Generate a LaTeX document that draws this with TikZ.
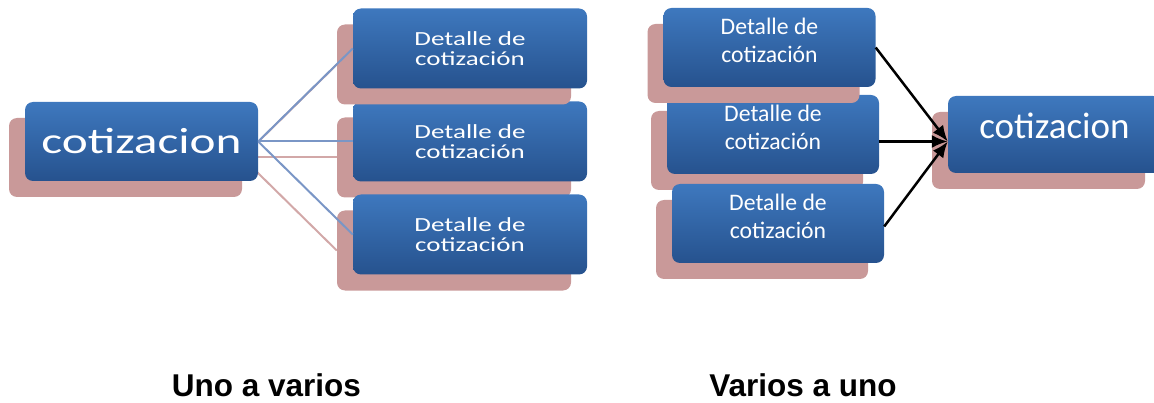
\documentclass[tikz,border=0pt]{standalone}
\usepackage{fontspec}
\setmainfont{Carlito}
\newfontfamily\titlefont{Liberation Sans}
\usepackage{tikz}
\usetikzlibrary{arrows,arrows.meta,shapes,positioning,shadows,backgrounds}
\usepackage{xcolor}
\definecolor{ctblue}{RGB}{62,120,190}
\definecolor{ctdarkblue}{RGB}{38,82,142}
\definecolor{ctpink}{RGB}{201,153,153}
\definecolor{ctlineblue}{RGB}{122,150,198}
\definecolor{ctlinepink}{RGB}{210,168,168}
\newcommand{\ancho}[1]{\scalebox{1.35}[1]{#1}}
\tikzstyle{arrow} = [line width=2.5pt,->,>={Latex[length=16pt,width=13pt]},color=black]
\tikzstyle{link} = [line width=2pt,color=ctlineblue]
\tikzstyle{linkshadow} = [line width=2pt,color=ctlinepink]
\tikzstyle{tabla} = [rectangle, rounded corners=8pt, inner sep=0pt, align=center, text=white, top color=ctblue, bottom color=ctdarkblue, drop shadow={shadow xshift=-16pt, shadow yshift=-16pt, fill=ctpink, opacity=1}]
\tikzstyle{detalle} = [tabla, minimum width=212pt, minimum height=79pt, font=\fontsize{23.7}{28}\selectfont, text depth=14pt]
\tikzstyle{detalleancho} = [tabla, minimum width=234pt, minimum height=80pt, font=\fontsize{20}{20}\selectfont]
\tikzstyle{titulo} = [anchor=base, inner sep=0pt, font=\titlefont\bfseries\fontsize{31.5}{32}\selectfont]
\begin{document}
\begin{tikzpicture}[x=1pt, y=1pt, node distance=93pt]
\path[use as bounding box, clip] (0,0) rectangle (1154,402);
% Uno a varios
\node (lcot) [tabla, minimum width=233pt, minimum height=79pt, font=\fontsize{36.5}{40}\selectfont] at (141.5,260.5) {\ancho{cotizacion}};
\node (ld2) [detalleancho, right of=lcot, xshift=235.5pt] {\ancho{Detalle de}\\\ancho{cotización}};
\node (ld1) [detalleancho, above of=ld2] {\ancho{Detalle de}\\\ancho{cotización}};
\node (ld3) [detalleancho, below of=ld2] {\ancho{Detalle de}\\\ancho{cotización}};

\begin{pgfonlayer}{background}
\foreach \d in {ld1,ld2,ld3}
  \draw[linkshadow] ([shift={(-16pt,-16pt)}]lcot.east) -- ([shift={(-16pt,-16pt)}]\d.west);
\end{pgfonlayer}
\foreach \d in {ld1,ld2,ld3}
  \draw[link] (lcot.east) -- (\d.west);

\node (uno) [titulo] at (266.5,6) {Uno a varios};

% Varios a uno
\node (rcot) [tabla, minimum width=213pt, minimum height=77pt, font=\fontsize{37}{40}\selectfont, text depth=17pt] at (1054.5,267.5) {cotizacion};
\node (rd2) [detalle, left of=rcot, xshift=-188.5pt] {Detalle de\\cotización};
\node (rd1) [detalle, above of=rd2, xshift=-3.5pt, yshift=-6pt] {Detalle de\\cotización};
\node (rd3) [detalle, below of=rd2, xshift=5pt, yshift=4pt] {Detalle de\\cotización};
\coordinate (meta) at ([yshift=-7pt]rcot.west);

\draw[arrow] (rd1.east) -- (meta);
\draw[arrow] (rd2.east |- meta) -- (meta);
\draw[arrow] ([yshift=-3pt]rd3.east) -- (meta);

\node (varios) [titulo] at (803,6) {Varios a uno};
\end{tikzpicture}
\end{document}
